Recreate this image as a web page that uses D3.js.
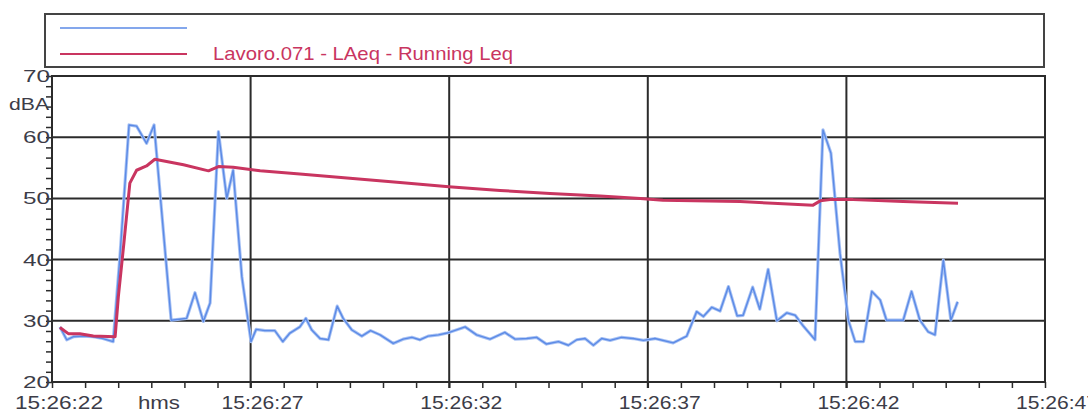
<!DOCTYPE html>
<html>
<head>
<meta charset="utf-8">
<script src="https://cdn.jsdelivr.net/npm/d3@7"></script>
<style>
  html, body { margin: 0; padding: 0; background: #fff; }
  svg { display: block; }
  text { font-family: "Liberation Sans", Arial, sans-serif; }
</style>
</head>
<body>
<svg id="chart" width="1088" height="415"></svg>
<script>
// Sound level record: instantaneous LAeq (blue) and running Leq (red)
// times are seconds after 15:26:22
const levelTimes = [0.20, 0.37, 0.54, 0.78, 1.03, 1.28, 1.54, 1.71, 1.94, 2.13, 2.38, 2.57,
  3.00, 3.26, 3.39, 3.60, 3.81, 3.98, 4.19, 4.40, 4.56, 4.78, 5.01, 5.14, 5.36, 5.61, 5.81,
  5.99, 6.24, 6.39, 6.54, 6.75, 6.96, 7.18, 7.33, 7.55, 7.80, 8.02, 8.26, 8.59, 8.84, 9.06,
  9.26, 9.47, 9.73, 9.95, 10.40, 10.69, 11.03, 11.40, 11.66, 11.95, 12.20, 12.45, 12.75,
  13.00, 13.21, 13.42, 13.63, 13.84, 14.05, 14.34, 14.63, 14.89, 15.18, 15.64, 15.98, 16.23,
  16.40, 16.61, 16.82, 17.03, 17.25, 17.40, 17.64, 17.82, 18.03, 18.25, 18.50, 18.71, 18.92,
  19.21, 19.41, 19.61, 19.84, 20.05, 20.22, 20.43, 20.64, 20.85, 21.01, 21.43, 21.64, 21.85,
  22.06, 22.23, 22.44, 22.63, 22.80];
const levelValues = [29.0, 26.9, 27.4, 27.5, 27.4, 27.1, 26.6, 40.5, 62.0, 61.8, 59.0, 62.0,
  30.1, 30.3, 30.4, 34.6, 29.9, 32.9, 60.9, 50.0, 54.6, 37.2, 26.6, 28.6, 28.4, 28.4, 26.6,
  28.0, 29.0, 30.4, 28.5, 27.1, 26.9, 32.4, 30.4, 28.5, 27.5, 28.4, 27.7, 26.3, 27.0, 27.3,
  26.9, 27.5, 27.7, 28.0, 29.0, 27.7, 27.0, 28.1, 27.0, 27.1, 27.3, 26.2, 26.6,
  26.0, 26.9, 27.1, 26.0, 27.1, 26.8, 27.3, 27.1, 26.8, 27.1, 26.4, 27.5, 31.5,
  30.7, 32.2, 31.6, 35.6, 30.8, 30.9, 35.5, 31.9, 38.4, 30.0, 31.3, 30.9, 29.1,
  26.9, 61.2, 57.4, 41.0, 30.1, 26.6, 26.6, 34.8, 33.4, 30.1, 30.1, 34.8, 30.1,
  28.2, 27.7, 39.9, 30.1, 33.1];

const runningTimes = [0.20, 0.41, 0.70, 1.04, 1.59, 1.67, 1.81, 1.96, 2.13, 2.38, 2.59, 3.31,
  3.94, 4.19, 4.56, 5.24, 6.24, 7.50, 8.76, 9.99, 11.28, 12.54, 13.80, 14.81, 15.38, 17.32,
  18.15, 19.16, 19.34, 19.59, 20.17, 21.43, 22.81];
const runningValues = [28.9, 27.9, 27.9, 27.5, 27.4, 33.9, 42.7, 52.5, 54.6, 55.3, 56.4, 55.5,
  54.5, 55.2, 55.1, 54.5, 54.0, 53.3, 52.6, 51.9, 51.3, 50.8, 50.4, 50.0, 49.7, 49.5,
  49.2, 48.9, 49.6, 49.8, 49.8, 49.5, 49.2];

const xTickSeconds = [0, 5, 10, 15, 20, 25];
const xTickLabels = ["15:26:22", "15:26:27", "15:26:32", "15:26:37", "15:26:42", "15:26:47"];
const yTickValues = [20, 30, 40, 50, 60, 70];
const yTickLabels = ["20", "30", "40", "50", "60", "70"];
const legendLabels = ["", "Lavoro.071 - LAeq - Running Leq"];

const blue = "#5b8ae6";
const red = "#c93560";
const ink = "#2b2b2b";
const labelInk = "#3c3c48";

const svg = d3.select("#chart");
const plot = { left: 52, right: 1045, top: 76, bottom: 382 };

const x = d3.scaleLinear().domain([0, 25]).range([plot.left, plot.right]);
const y = d3.scaleLinear().domain([20, 70]).range([plot.bottom, plot.top]);

// legend box
const legend = svg.append("g");
legend.append("rect")
  .attr("x", 45).attr("y", 14).attr("width", 999).attr("height", 53)
  .attr("fill", "none").attr("stroke", "#444").attr("stroke-width", 2);
const legendRows = [{ color: blue, w: 1.6, yy: 28 }, { color: red, w: 2, yy: 54 }];
legendRows.forEach((r, i) => {
  legend.append("line")
    .attr("x1", 60).attr("x2", 187).attr("y1", r.yy).attr("y2", r.yy)
    .attr("stroke", r.color).attr("stroke-width", r.w);
  if (legendLabels[i]) {
    legend.append("text")
      .attr("x", 213).attr("y", r.yy + 6)
      .attr("font-size", 19)
      .attr("textLength", 300).attr("lengthAdjust", "spacingAndGlyphs")
      .attr("fill", red)
      .text(legendLabels[i]);
  }
});

// minor ticks
const minorX = d3.range(0, 25.001, 5 / 6);
const minorY = d3.range(20, 70.001, 10 / 6);

svg.append("g")
  .attr("transform", `translate(0,${plot.bottom})`)
  .call(d3.axisBottom(x).tickValues(minorX).tickSize(6).tickFormat(""))
  .call(g => g.select(".domain").remove())
  .call(g => g.selectAll("line").attr("stroke", ink).attr("stroke-width", 1.5));

svg.append("g")
  .attr("transform", `translate(${plot.left},0)`)
  .call(d3.axisLeft(y).tickValues(minorY).tickSize(6).tickFormat(""))
  .call(g => g.select(".domain").remove())
  .call(g => g.selectAll("line").attr("stroke", ink).attr("stroke-width", 1.5));

// grid lines
const grid = svg.append("g").attr("stroke", ink).attr("stroke-width", 2);
grid.selectAll(".gx").data(xTickSeconds.slice(1, -1)).join("line")
  .attr("x1", d => x(d)).attr("x2", d => x(d))
  .attr("y1", plot.top).attr("y2", plot.bottom + 6);
grid.selectAll(".gy").data(yTickValues.slice(1, -1)).join("line")
  .attr("x1", plot.left).attr("x2", plot.right)
  .attr("y1", d => y(d)).attr("y2", d => y(d));

// frame
svg.append("rect")
  .attr("x", plot.left).attr("y", plot.top)
  .attr("width", plot.right - plot.left).attr("height", plot.bottom - plot.top)
  .attr("fill", "none").attr("stroke", ink).attr("stroke-width", 2);

// tick labels
svg.append("g").selectAll("text").data(yTickValues).join("text")
  .attr("x", 50).attr("y", d => y(d) + 6)
  .attr("text-anchor", "end")
  .attr("font-size", 17)
  .attr("textLength", 27).attr("lengthAdjust", "spacingAndGlyphs")
  .attr("fill", labelInk)
  .text((d, i) => yTickLabels[i]);

svg.append("g").selectAll("text").data(xTickSeconds).join("text")
  .attr("x", (d, i) => i === 0 ? 15 : x(d) - 29).attr("y", 409)
  .attr("font-size", 18)
  .attr("textLength", (d, i) => i === 0 ? 88 : 82).attr("lengthAdjust", "spacingAndGlyphs")
  .attr("fill", labelInk)
  .text((d, i) => xTickLabels[i]);

svg.append("text").attr("x", 9).attr("y", 110)
  .attr("font-size", 16).attr("textLength", 40).attr("lengthAdjust", "spacingAndGlyphs")
  .attr("fill", labelInk).text("dBA");
svg.append("text").attr("x", 138).attr("y", 409)
  .attr("font-size", 18).attr("textLength", 42).attr("lengthAdjust", "spacingAndGlyphs")
  .attr("fill", labelInk).text("hms");

// series
const levelData = levelTimes.map((t, i) => [t, levelValues[i]]);
const runningData = runningTimes.map((t, i) => [t, runningValues[i]]);
const line = d3.line().x(d => x(d[0])).y(d => y(d[1]));

svg.append("path").datum(levelData)
  .attr("d", line).attr("fill", "none")
  .attr("stroke", "#a8c2f4").attr("stroke-width", 3.2).attr("stroke-linejoin", "round");
svg.append("path").datum(levelData)
  .attr("d", line).attr("fill", "none")
  .attr("stroke", blue).attr("stroke-width", 1.4).attr("stroke-linejoin", "round");

svg.append("path").datum(runningData)
  .attr("d", line).attr("fill", "none")
  .attr("stroke", red).attr("stroke-width", 3).attr("stroke-linejoin", "round");
</script>
</body>
</html>
